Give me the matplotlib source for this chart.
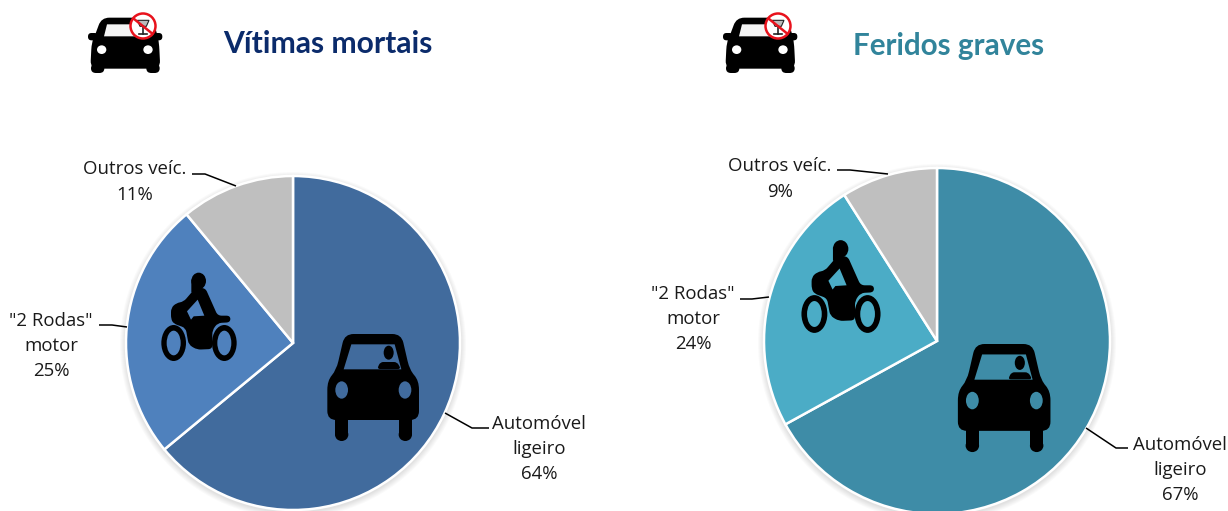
import matplotlib
matplotlib.use('Agg')
import matplotlib.pyplot as plt
import numpy as np
from matplotlib.patches import Polygon, Ellipse, Circle, PathPatch, Rectangle
from matplotlib.path import Path

W, H = 1228, 511

# Data
labels = ['Automóvel\nligeiro', '"2 Rodas"\nmotor', 'Outros veíc.']
mortais = [64, 25, 11]
graves = [67, 24, 9]
titles = ['Vítimas mortais', 'Feridos graves']

colors_left = ['#416B9D', '#4F81BD', '#BFBFBF']
colors_right = ['#3E8CA7', '#4BACC6', '#BFBFBF']

plt.rcParams['font.family'] = ['Open Sans', 'DejaVu Sans']

fig = plt.figure(figsize=(W / 100, H / 100), dpi=100, facecolor='white')


def pixel_axes(z):
    a = fig.add_axes([0, 0, 1, 1], zorder=z)
    a.set_xlim(0, W)
    a.set_ylim(H, 0)
    a.axis('off')
    a.patch.set_alpha(0)
    return a


under = pixel_axes(1)  # shadow goes below the pies
ov = pixel_axes(8)     # icons, leaders, text


def draw_pie(values, colors, cx, cy, r):
    for i in range(6):
        under.add_patch(Circle((cx, cy + 2), r + 6 - i, fc='black', ec='none', alpha=0.02))
    pad = 1.0
    ax = fig.add_axes([(cx - r - pad) / W, 1 - (cy + r + pad) / H, 2 * (r + pad) / W, 2 * (r + pad) / H], zorder=6)
    ax.pie(values, colors=colors, startangle=90, counterclock=False, radius=1.0,
           wedgeprops={'edgecolor': 'white', 'linewidth': 1.8})
    ax.set_xlim(-1 - pad / r, 1 + pad / r)
    ax.set_ylim(-1 - pad / r, 1 + pad / r)
    ax.patch.set_alpha(0)


def rounded(points, rad):
    # closed polygon with corners softened by quadratic curves
    pts = np.array(points, dtype=float)
    n = len(pts)
    verts, codes = [], []
    for i in range(n):
        prev, cur, nxt = pts[i - 1], pts[i], pts[(i + 1) % n]
        d1 = prev - cur
        d2 = nxt - cur
        a = cur + d1 / np.hypot(*d1) * min(rad, np.hypot(*d1) / 2)
        b = cur + d2 / np.hypot(*d2) * min(rad, np.hypot(*d2) / 2)
        verts.append(a)
        codes.append(Path.MOVETO if i == 0 else Path.LINETO)
        verts += [cur, b]
        codes += [Path.CURVE3, Path.CURVE3]
    verts.append(verts[0])
    codes.append(Path.CLOSEPOLY)
    return Path(verts, codes)


def car_front(ax, x0, y0, s, window):
    def p(x, y):
        return (x0 + (x - 700) * s / 3, y0 + (y - 222) * s / 3)
    outline = [(615, 222), (785, 222), (810, 330), (838, 362), (838, 480), (563, 480), (563, 362), (590, 330)]
    ax.add_patch(PathPatch(rounded([p(*q) for q in outline], 9 * s), fc='black', ec='none', zorder=10))
    for wx in (606, 797):
        ax.add_patch(Rectangle(p(wx - 20, 470), 40 * s / 3, 55 * s / 3, fc='black', ec='none', zorder=10))
        ax.add_patch(Ellipse(p(wx, 524), 40 * s / 3, 38 * s / 3, fc='black', ec='none', zorder=10))
    glass = [(635, 253), (765, 253), (785, 328), (612, 328)]
    ax.add_patch(Polygon([p(*q) for q in glass], fc=window, ec='none', zorder=11))
    for hx in (606, 796):
        ax.add_patch(Ellipse(p(hx, 390), 38 * s / 3, 52 * s / 3, fc=window, ec='none', zorder=11))
    ax.add_patch(Ellipse(p(747, 278), 30 * s / 3, 42 * s / 3, fc='black', ec='none', zorder=12))
    ax.add_patch(PathPatch(rounded([p(*q) for q in [(712, 327), (722, 306), (772, 306), (784, 327)]], 3 * s),
                           fc='black', ec='none', zorder=12))


def moto(ax, x0, y0, s, bg):
    # origin at the centre between the wheels
    def p(x, y):
        return (x0 + (x - 176) * s / 3, y0 + (y - 250) * s / 3)
    for wx in (100, 252):
        ax.add_patch(Ellipse(p(wx, 250), 74 * s / 3, 108 * s / 3, fc='black', ec='none', zorder=10))
        ax.add_patch(Ellipse(p(wx, 250), 42 * s / 3, 74 * s / 3, fc=bg, ec='none', zorder=11))
    body = [(92, 145), (108, 130), (130, 126), (165, 85), (195, 85), (232, 168), (270, 168), (270, 188),
            (232, 190), (216, 212), (216, 268), (170, 270), (145, 255), (136, 205), (100, 192), (92, 178)]
    ax.add_patch(PathPatch(rounded([p(*q) for q in body], 4 * s), fc='black', ec='none', zorder=12))
    gap = [(140, 155), (172, 120), (192, 168), (160, 170), (152, 180)]
    ax.add_patch(Polygon([p(*q) for q in gap], fc=bg, ec='none', zorder=13))
    ax.add_patch(Ellipse(p(175, 64), 44 * s / 3, 50 * s / 3, fc='black', ec='none', zorder=12))
    ax.add_patch(Polygon([p(153, 60), p(172, 60), p(178, 96), p(153, 98)], fc='black', ec='none', zorder=12))


def top_car(ax, x0, y0):
    def p(x, y):
        return (x0 + (x - 55) / 3, y0 + (y - 50) / 3)
    outline = [(95, 52), (248, 52), (262, 100), (268, 125), (272, 205), (62, 205), (66, 125), (78, 100)]
    ax.add_patch(PathPatch(rounded([p(*q) for q in outline], 8), fc='black', ec='none', zorder=10))
    for a, b in ((55, 85), (248, 278)):
        ax.add_patch(PathPatch(rounded([p(a, 98), p(b, 98), p(b, 120), p(a, 120)], 3.5), fc='black', ec='none', zorder=10))
    for wx in (84, 250):
        ax.add_patch(PathPatch(rounded([p(wx - 20, 190), p(wx + 20, 190), p(wx + 20, 218), p(wx - 20, 218)], 5),
                               fc='black', ec='none', zorder=10))
    ax.add_patch(Polygon([p(*q) for q in [(112, 72), (190, 72), (238, 108), (103, 108)]], fc='#F4F4F4', ec='none', zorder=11))
    for hx in (96, 235):
        ax.add_patch(Ellipse(p(hx, 148), 28 / 3, 26 / 3, fc='white', ec='none', zorder=11))
    # no-alcohol sign
    c = p(220, 77)
    ax.add_patch(Circle(c, 12.5, fc='white', ec='#E8121C', lw=1.8, zorder=12))
    ax.add_patch(Polygon([p(203, 60), p(238, 60), p(230, 78), p(211, 78)], fc='#BBBBBB', ec='#222222', lw=0.8, zorder=13))
    ax.plot([p(220, 78)[0]] * 2, [p(220, 78)[1], p(220, 100)[1]], color='#222222', lw=1.2, zorder=13)
    ax.plot([p(209, 101)[0], p(231, 101)[0]], [p(209, 101)[1]] * 2, color='#222222', lw=1.2, zorder=13)
    ax.plot([p(192, 55)[0], p(248, 100)[0]], [p(192, 55)[1], p(248, 100)[1]], color='#E8121C', lw=1.8, zorder=14)


draw_pie(mortais, colors_left, 293, 343, 167)
draw_pie(graves, colors_right, 937, 341, 173)

car_front(ov, 373, 334, 1.0, colors_left[0])
car_front(ov, 1004, 344, 1.01, colors_right[0])
moto(ov, 199, 343, 1.0, colors_left[1])
moto(ov, 841, 314, 1.05, colors_right[1])
top_car(ov, 88, 17)
top_car(ov, 723, 17)

ov.text(328, 44, titles[0], color='#0B2B6B', fontsize=21.6, fontweight='bold', family=['Lato', 'DejaVu Sans'], ha='center', va='center')
ov.text(949, 46, titles[1], color='#31849B', fontsize=21.3, fontweight='bold', family=['Lato', 'DejaVu Sans'], ha='center', va='center')


def label(x, y, text):
    ov.text(x, y, text, fontsize=13.4, color='#1A1A1A', ha='center', va='center', linespacing=1.52)


label(135, 182, f'{labels[2]}\n{mortais[2]}%')
label(51, 346, f'{labels[1]}\n{mortais[1]}%')
label(539, 449, f'{labels[0]}\n{mortais[0]}%')
label(780, 179, f'{labels[2]}\n{graves[2]}%')
label(693, 319, f'{labels[1]}\n{graves[1]}%')
label(1180, 470, f'{labels[0]}\n{graves[0]}%')

leaders = [
    ([192, 205, 236], [174, 174, 186]),
    ([99, 112, 127], [325, 325, 327]),
    ([489, 472, 445], [428, 428, 413]),
    ([837, 850, 888], [170, 170, 174]),
    ([740, 752, 769], [299, 299, 297]),
    ([1128, 1116, 1086], [448, 448, 428]),
]
for lx, ly in leaders:
    ov.plot(lx, ly, color='black', lw=1.1, zorder=9, solid_capstyle='butt')

fig.savefig('out.png', dpi=100)
